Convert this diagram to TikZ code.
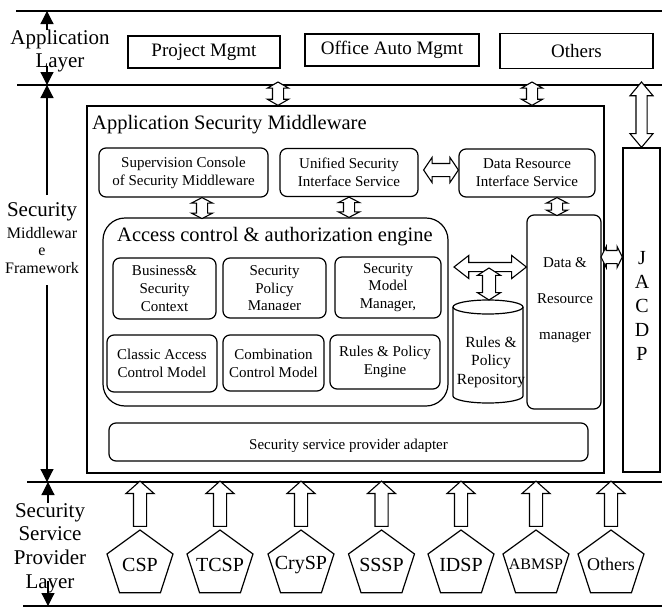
\documentclass[tikz,border=0pt]{standalone}
\usepackage{fontspec}
\setmainfont{Liberation Serif}
\usetikzlibrary{shapes.geometric, shapes.arrows, arrows.meta, calc, positioning}

% hollow block arrow placed between two points
\newcommand{\blockarr}[4]{%
  \path let \p1=(#2), \p2=(#3),
    \n1={veclen(\x2-\x1,\y2-\y1)}, \n2={atan2(\y2-\y1,\x2-\x1)} in
    node[#1, minimum height=\n1, rotate=\n2] (#4) at ($(\p1)!0.5!(\p2)$) {};}

\begin{document}
\begin{tikzpicture}[x=1pt, y=-1pt,
  divline/.style={line width=1.6pt},
  plainbox/.style={draw, line width=1.3pt, inner sep=0pt},
  rbox/.style={draw, line width=1.2pt, rounded corners=7pt, inner sep=0pt},
  boxtxt/.style={font=\fontsize{15}{18}\selectfont, align=center},
  layerlbl/.style={font=\fontsize{21}{23}\selectfont, align=center},
  layarrow/.style={line width=1.2pt, -{Triangle[length=13pt, width=13pt]}},
  penta/.style={draw, line width=1.2pt, regular polygon, regular polygon sides=5,
    minimum size=69.4pt, inner sep=0pt},
  uparr/.style={single arrow, draw, fill=white, line width=1.1pt, inner xsep=0pt,
    inner ysep=6pt, single arrow head extend=7.5pt, single arrow tip angle=97},
  dblarr/.style={double arrow, draw, fill=white, line width=1.1pt, inner xsep=0pt}]
  \useasboundingbox (0,0) rectangle (662,608);

  % Layer dividers
  \coordinate (L1) at (16,11);
  \coordinate (L2) at (17,85);
  \coordinate (L3) at (27,482);
  \coordinate (L4) at (23,606);
  \draw[divline] (L1) -- (662,11);
  \draw[divline] (L2) -- (662,85);
  \draw[divline] (L3) -- (662,482);
  \draw[line width=1.3pt] (L4) -- (662,606);

  % Layer labels
  \node[layerlbl] (appl) at (60,50.5) {Application\\Layer};
  \node[layerlbl] (secw) at (42,212) {Security};
  \node[font=\fontsize{16}{17.5}\selectfont, align=center] (midw) at (42,250.5) {Middlewar\\e\\Framework};
  \node[font=\fontsize{21}{23.7}\selectfont, align=center] (sspl) at (50,548) {Security\\Service\\Provider\\Layer};
  \coordinate (appU) at (47,30);
  \coordinate (appD) at (47,66);
  \coordinate (secU) at (47,195);
  \coordinate (secD) at (47,285);
  \coordinate (sspU) at (48,503);
  \coordinate (sspD) at (48,581);
  \draw[layarrow] (appU) -- (appU |- L1);
  \draw[layarrow] (appD) -- (appD |- L2);
  \draw[layarrow] (secU) -- (secU |- L2);
  \draw[layarrow] (secD) -- (secD |- L3);
  \draw[layarrow] (sspU) -- (sspU |- L3);
  \draw[layarrow] (sspD) -- (sspD |- L4);

  % Application layer
  \node[plainbox, minimum width=152pt, minimum height=32pt, font=\fontsize{19}{21}\selectfont] (pm) at (204,52) {Project Mgmt};
  \node[plainbox, minimum width=174pt, minimum height=32pt, font=\fontsize{19}{21}\selectfont] (oam) at (392,50) {Office Auto Mgmt};
  \node[plainbox, minimum width=153pt, minimum height=35pt, font=\fontsize{19}{21}\selectfont] (oth) at (576.5,51) {Others};

  % Middleware frame
  \node[plainbox, minimum width=517pt, minimum height=367pt] (asm) at (345.5,289.5) {};
  \node[anchor=west, inner sep=0pt, font=\fontsize{20.5}{22}\selectfont] (asmt) at (92,125) {Application Security Middleware};
  \node[plainbox, minimum width=37pt, minimum height=324pt] (jac) at (641.5,310) {};
  \node[font=\fontsize{20}{24}\selectfont, align=center] (jact) at (642,306) {J\\A\\C\\D\\P};

  % Service boxes
  \node[rbox, boxtxt, minimum width=169pt, minimum height=49pt] (sup) at (183.5,172.5) {Supervision Console\\of Security Middleware};
  \node[rbox, boxtxt, minimum width=138pt, minimum height=48pt] (usi) at (349,172.5) {Unified Security\\Interface Service};
  \node[rbox, boxtxt, minimum width=136pt, minimum height=48pt] (dri) at (527,173) {Data Resource\\Interface Service};

  % Access control engine
  \node[rbox, rounded corners=22pt, minimum width=345pt, minimum height=188pt] (ace) at (275.5,312) {};
  \node[anchor=west, inner sep=0pt, font=\fontsize{20.5}{22}\selectfont] (acet) at (117,237) {Access control \& authorization engine};
  \node[rbox, boxtxt, minimum width=103pt, minimum height=61pt] (bsc) at (164.5,288.5) {Business\&\\Security\\Context};
  \node[rbox, minimum width=103pt, minimum height=60pt] (spm) at (274.5,288) {};
  \begin{scope}
    \clip (223,258) rectangle (326,309.5);
    \node[boxtxt, font=\fontsize{15}{17.5}\selectfont] (spmt) at (274.5,290) {Security\\Policy\\Manager};
  \end{scope}
  \node[rbox, boxtxt, font=\fontsize{15}{17.5}\selectfont, minimum width=106pt, minimum height=61pt] (smm) at (388,287.5) {Security\\Model\\Manager,};
  \node[rbox, boxtxt, minimum width=110pt, minimum height=57pt] (cac) at (162,363.5) {Classic Access\\Control Model};
  \node[rbox, boxtxt, minimum width=101pt, minimum height=56pt] (ccm) at (273.5,363) {Combination\\Control Model};
  \node[rbox, boxtxt, minimum width=110pt, minimum height=54pt] (rpe) at (385,362) {Rules \& Policy\\Engine};

  % Repository cylinder
  \draw[line width=1.2pt] (453,307) -- (453,396) arc[start angle=180, end angle=0, x radius=35, y radius=7] -- (523,307);
  \draw[line width=1.2pt] (488,307) ellipse[x radius=35, y radius=7];
  \coordinate (cyltop) at (489,300);
  \node[boxtxt, font=\fontsize{15.5}{18.5}\selectfont] (rpr) at (491,362) {Rules \&\\Policy\\Repository};

  % Data & resource manager
  \node[rbox, minimum width=74pt, minimum height=194pt] (drm) at (564,312) {};
  \node[font=\fontsize{15}{36}\selectfont, align=center] (drmt) at (565,300) {Data \&\\Resource\\manager};

  % Adapter
  \node[rbox, minimum width=479pt, minimum height=38pt] (ada) at (348.5,442) {};
  \begin{scope}
    \clip (109,423) rectangle (588,451);
    \node[anchor=base, font=\fontsize{15}{18}\selectfont] (adat) at (348.5,449.5) {Security service provider adapter};
  \end{scope}

  % Block arrows
  \coordinate (pmA) at (278,82);
  \coordinate (drA) at (532,82);
  \coordinate (acedr) at (454,267);
  \coordinate (drjac) at (601,257);
  \blockarr{dblarr, inner ysep=5pt, double arrow head extend=5pt, double arrow tip angle=120}{pmA}{pmA |- asm.north}{a1}
  \blockarr{dblarr, inner ysep=5pt, double arrow head extend=5pt, double arrow tip angle=120}{drA}{drA |- asm.north}{a2}
  \blockarr{dblarr, inner ysep=5pt, double arrow head extend=6pt, double arrow tip angle=80}{$(jac.north |- L2)+(0,-3)$}{jac.north}{a3}
  \blockarr{dblarr, inner ysep=5pt, double arrow head extend=5pt, double arrow tip angle=125}{$(sup.south)+(18.5,0)$}{$(sup.south)+(18.5,21)$}{a4}
  \blockarr{dblarr, inner ysep=5pt, double arrow head extend=5pt, double arrow tip angle=125}{usi.south}{usi.south |- ace.north}{a5}
  \blockarr{dblarr, inner ysep=5pt, double arrow head extend=5pt, double arrow tip angle=125}{$(dri.south)+(30,0)$}{$(dri.south)+(30,18)$}{a6}
  \blockarr{dblarr, inner ysep=6pt, double arrow head extend=6pt, double arrow tip angle=112}{$(usi.east)+(5,-2.5)$}{$(dri.west)+(0,-3)$}{a7}
  \blockarr{dblarr, inner ysep=4pt, double arrow head extend=7pt, double arrow tip angle=76}{acedr}{acedr -| drm.west}{a8}
  \blockarr{dblarr, inner ysep=6pt, double arrow head extend=5pt, double arrow tip angle=115}{$(cyltop)+(0,-32)$}{cyltop}{a9}
  \blockarr{dblarr, inner ysep=6pt, double arrow head extend=4pt, double arrow tip angle=127}{drjac}{drjac -| jac.west}{a10}

  % Service providers
  \foreach \nm/\cx/\lbl/\fsz in {csp/140/CSP/20, tcsp/220/TCSP/20, crysp/301/CrySP/20,
      sssp/381.5/SSSP/20, idsp/461/IDSP/20, abmsp/536/ABMSP/16, oths/611/Others/18} {
    \node[penta, label={[font=\fontsize{\fsz}{\fsz}\selectfont]center:\lbl}] (\nm) at (\cx,564.7) {};
    \blockarr{uparr}{\nm.north}{$(\nm.north |- L3)+(0,2)$}{\nm-up}
  }
\end{tikzpicture}
\end{document}
